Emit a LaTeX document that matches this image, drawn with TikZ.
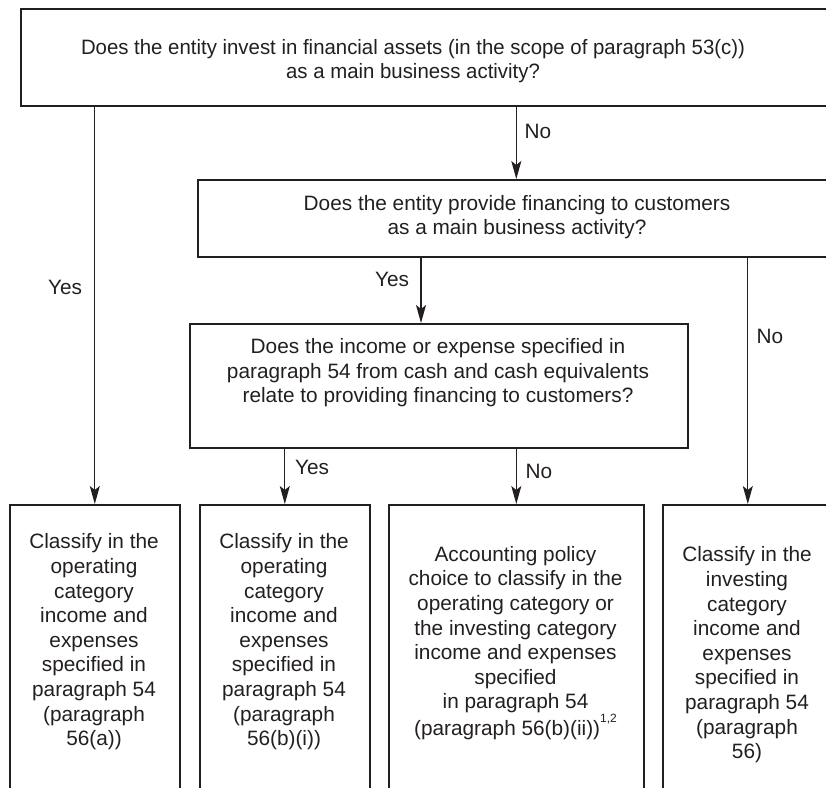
\documentclass[tikz,border=0pt]{standalone}
\usepackage{fontspec}
\setmainfont{Liberation Sans}
\usetikzlibrary{arrows.meta}
\definecolor{ink}{HTML}{231F20}
\newcommand{\fnmark}[1]{\raisebox{0.62em}{\fontsize{12}{12}\selectfont #1}}
\begin{document}
\begin{tikzpicture}[x=1pt,y=-1pt,
  box/.style={draw=ink, line width=1.6pt, anchor=north west, inner sep=0pt},
  txt/.style={text=ink, align=center, font=\fontsize{20.8}{24.6}\selectfont, inner sep=0pt},
  lbl/.style={text=ink, font=\fontsize{20.8}{24.6}\selectfont, inner sep=0pt},
  flow/.style={draw=ink, line width=1.2pt, -{Stealth[length=18pt,width=10pt,inset=4pt]}}]
\useasboundingbox (0,0) rectangle (826,787);
\clip (0,0) rectangle (826,787);

% decision boxes
\node[box, minimum width=810pt, minimum height=97pt] (q1) at (20,8) {};
\node[box, minimum width=640pt, minimum height=77pt] (q2) at (197,179) {};
\node[box, minimum width=498pt, minimum height=124pt] (q3) at (189,323) {};

% outcome boxes (run past the lower edge)
\node[box, minimum width=170pt, minimum height=320pt] (a) at (9,504) {};
\node[box, minimum width=170pt, minimum height=320pt] (b) at (199,504) {};
\node[box, minimum width=255pt, minimum height=320pt] (c) at (388,504) {};
\node[box, minimum width=170pt, minimum height=320pt] (d) at (662,504) {};

% box texts
\node[txt, xscale=0.98] (q1t) at (413,61) {Does the entity invest in financial assets (in the scope of paragraph 53(c))\\as a main business activity?};
\node[txt] (q2t) at (517,217) {Does the entity provide financing to customers\\as a main business activity?};
\node[txt] (q3t) at (438,373) {Does the income or expense specified in\\paragraph 54 from cash and cash equivalents\\relate to providing financing to customers?};
\node[txt] (at) at (94,642) {Classify in the\\operating\\category\\income and\\expenses\\specified in\\paragraph 54\\(paragraph\\56(a))};
\node[txt] (bt) at (284,642) {Classify in the\\operating\\category\\income and\\expenses\\specified in\\paragraph 54\\(paragraph\\56(b)(i))};
\node[txt] (ct) at (515.5,643) {Accounting policy\\choice to classify in the\\operating category or\\the investing category\\income and expenses\\specified\\in paragraph 54\\(paragraph 56(b)(ii))\fnmark{1,2}};
\node[txt] (dt) at (747,655) {Classify in the\\investing\\category\\income and\\expenses\\specified in\\paragraph 54\\(paragraph\\56)};

% connectors
\coordinate (j2) at (421,0);
\draw[flow] (q1.south -| a.north) -- (a.north);
\draw[flow] (q1.south -| c.north) -- (q2.north -| c.north);
\draw[flow] (q2.south -| j2) -- (q3.north -| j2);
\draw[flow] (q2.south -| d.north) -- (d.north);
\draw[flow] (q3.south -| b.north) -- (b.north);
\draw[flow] (q3.south -| c.north) -- (c.north);

% branch labels
\node[lbl] (l1) at (65,287) {Yes};
\node[lbl] (l2) at (538,131) {No};
\node[lbl] (l3) at (392,279) {Yes};
\node[lbl] (l4) at (770,336) {No};
\node[lbl] (l5) at (312,467) {Yes};
\node[lbl] (l6) at (539,471) {No};
\end{tikzpicture}
\end{document}
